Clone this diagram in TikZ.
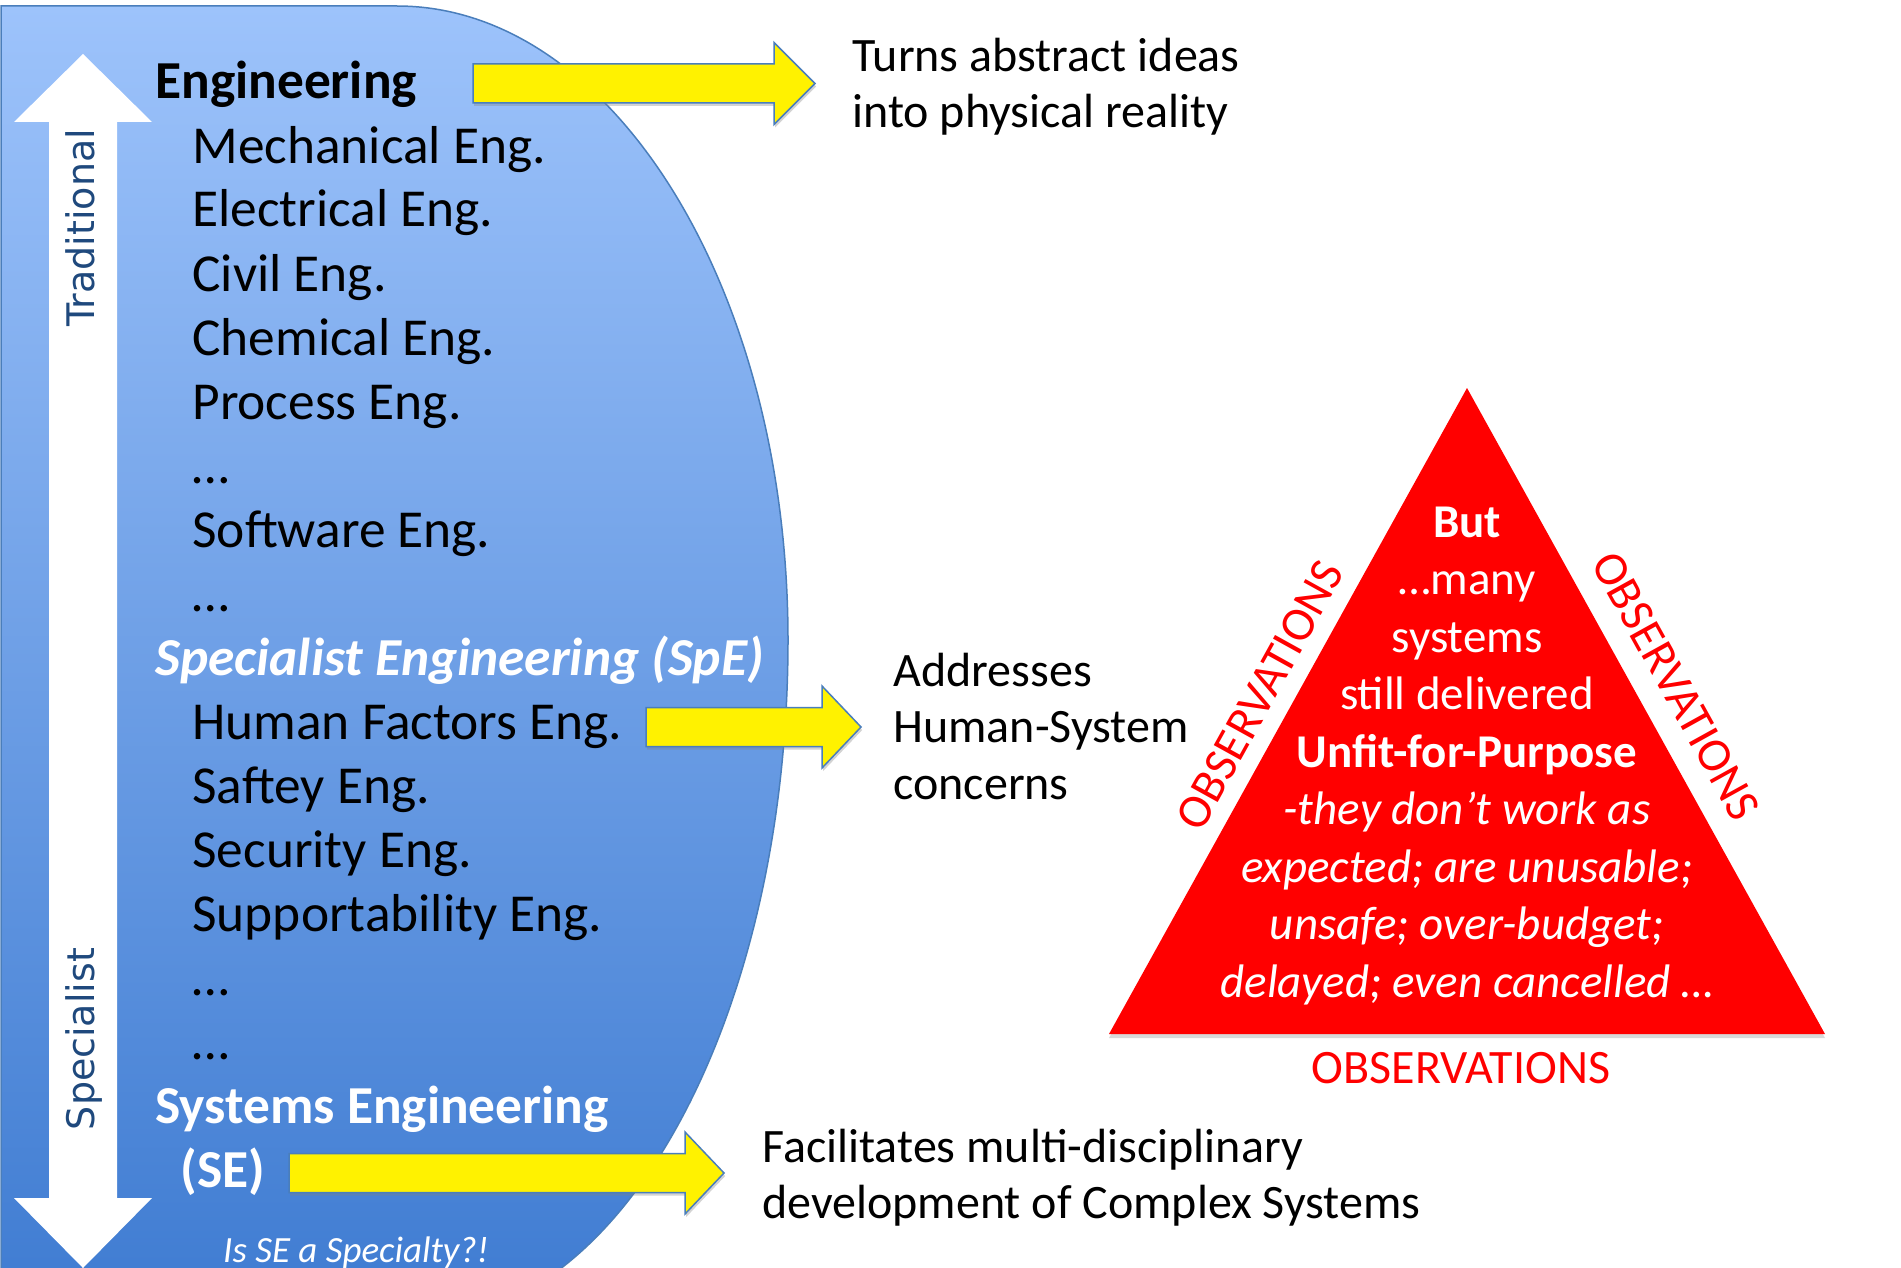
\documentclass[tikz,border=0pt]{standalone}
\usepackage{fontspec}
\setmainfont{Carlito}
\newfontfamily\axisfont{DejaVu Sans}
\usetikzlibrary{shadows}
\definecolor{shapetop}{RGB}{157,195,251}
\definecolor{shapebot}{RGB}{62,123,209}
\definecolor{shapeline}{RGB}{74,126,187}
\definecolor{axisblue}{RGB}{31,73,125}
\definecolor{obsred}{RGB}{255,0,0}
\tikzset{
  listtext/.style={anchor=base west, inner sep=0pt, font=\fontsize{26.7}{32}\selectfont},
  titletext/.style={anchor=base west, inner sep=0pt, font=\fontsize{26.7}{32}\selectfont\bfseries},
  sidetext/.style={anchor=base west, inner sep=0pt, align=left, font=\fontsize{24}{28}\selectfont},
  yarrow/.style={fill=yellow, draw=shapeline, line width=0.75pt, drop shadow={shadow xshift=0.6pt, shadow yshift=-1.5pt, opacity=0.35}},
  obs/.style={text=obsred, font=\fontsize{24}{28}\selectfont},
  axislabel/.style={rotate=90, anchor=base, inner sep=0pt, text=axisblue, font=\axisfont\fontsize{19}{23}\selectfont},
}
\begin{document}
\begin{tikzpicture}[x=0.5pt, y=-0.5pt]
    \useasboundingbox (0, 0) rectangle (1901, 1268);

    \draw [draw=shapeline, line width=0.75pt, top color=shapetop, bottom color=shapebot] (1, 6) -- (397, 6) .. controls (613, 6) and (788, 290) .. (788, 640) .. controls (788, 1016) and (623, 1320) .. (420, 1320) -- (1, 1320) -- cycle;
    \fill [white] (83, 54) -- (152, 122) -- (117, 122) -- (117, 1198) -- (152, 1198) -- (83, 1268) -- (14, 1198) -- (49, 1198) -- (49, 122) -- (14, 122) -- cycle;
    \node [axislabel] (trad) at (94, 228) {Traditional};
    \node [axislabel] (spec) at (94, 1039) {Specialist};

    \foreach \xa/\xb/\xt/\ym in {473/774/815/83.5, 646/822/861/727, 289/685/724/1173}
      \draw [yarrow] (\xa, \ym-19.5) -- (\xb, \ym-19.5) -- (\xb, \ym-41) -- (\xt, \ym) -- (\xb, \ym+41) -- (\xb, \ym+19.5) -- (\xa, \ym+19.5) -- cycle;

    \node [titletext] (engTitle) at (155, 99) {Engineering};
    \foreach \k/\txt in {1/Mechanical Eng., 2/Electrical Eng., 3/Civil Eng., 4/Chemical Eng., 5/Process Eng., 6/…, 7/Software Eng., 8/…, 10/Human Factors Eng., 11/Saftey Eng., 12/Security Eng., 13/Supportability Eng., 14/…, 15/…}
      \node [listtext] (item\k) at (192, 99+64*\k) {\txt};
    \node [titletext, text=white, font=\fontsize{26.7}{32}\selectfont\bfseries\itshape] (speTitle) at (155, 675) {Specialist Engineering (SpE)};
    \node [titletext, text=white] (seTitle) at (155, 1123) {Systems Engineering};
    \node [titletext, text=white] (seAbbr) at (180, 1187) {(SE)};
    \node [anchor=base, inner sep=0pt, text=white, font=\fontsize{18.5}{22}\selectfont\itshape] (seQuery) at (356, 1262) {Is SE a Specialty?!};

    \node [sidetext] (engNote) at (852, 127) {Turns abstract ideas\\into physical reality};
    \node [sidetext, font=\fontsize{24}{28.25}\selectfont] (speNote) at (893, 799) {Addresses\\Human-System\\concerns};
    \node [sidetext] (seNote) at (762, 1218) {Facilitates multi-disciplinary\\development of Complex Systems};

    \coordinate (apex) at (1467, 388);
    \coordinate (baseL) at (1109, 1034);
    \coordinate (baseR) at (1825, 1034);
    \fill [obsred, drop shadow={shadow xshift=0pt, shadow yshift=-2pt, opacity=0.3}] (baseL) -- (apex) -- (baseR) -- cycle;
    \path (baseL) -- (apex) node [obs, midway, sloped, above, inner sep=8pt] (obsLeft) {OBSERVATIONS};
    \path (apex) -- (baseR) node [obs, pos=0.49, sloped, above, inner sep=11pt] (obsRight) {OBSERVATIONS};
    \path (baseL) -- (baseR) node [obs, midway, below, inner sep=9pt, xshift=-3pt] (obsBase) {OBSERVATIONS};
    \node [anchor=base, align=center, inner sep=0pt, text=white, font=\fontsize{23.5}{28.75}\selectfont] (verdict) at (1467, 997) {\textbf{But}\\…many\\systems\\still delivered\\\textbf{Unfit-for-Purpose}\\\textit{-they don’t work as}\\\textit{expected; are unusable;}\\\textit{unsafe; over-budget;}\\\textit{delayed; even cancelled …}};
\end{tikzpicture}
\end{document}
